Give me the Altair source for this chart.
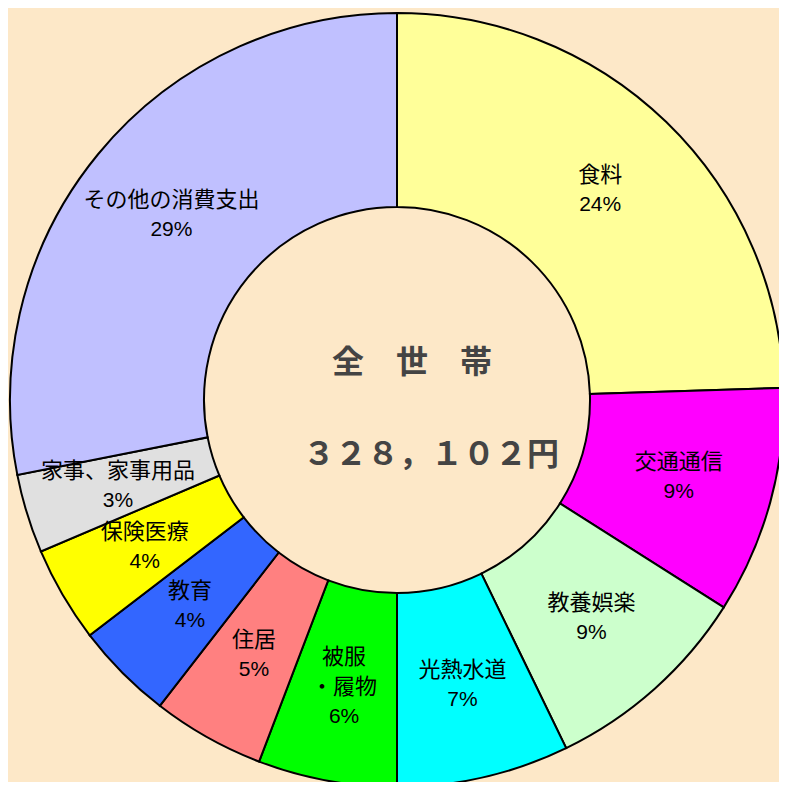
import altair as alt
import pandas as pd

# ---- data ----
categories = ["食料", "交通通信", "教養娯楽", "光熱水道", "被服・履物",
              "住居", "教育", "保険医療", "家事、家事用品", "その他の消費支出"]
label_lines = [["食料"], ["交通通信"], ["教養娯楽"], ["光熱水道"], ["被服", "・履物"],
               ["住居"], ["教育"], ["保険医療"], ["家事、家事用品"], ["その他の消費支出"]]
shares = [24.5, 9.5, 8.8, 7.2, 5.8, 4.7, 4.1, 4.0, 3.3, 28.1]
pct_labels = ["24%", "9%", "9%", "7%", "6%", "5%", "4%", "4%", "3%", "29%"]
colors = ["#FFFF99", "#FF00FF", "#CCFFCC", "#00FFFF", "#00FF00",
          "#FF8080", "#3366FF", "#FFFF00", "#E0E0E0", "#C0C0FF"]
center_title = "全　世　帯"
center_total = "３２８，１０２円"

# ---- layout ----
W, H = 771, 774
CX, CY = 389, 392
R_OUT, R_IN, R_LAB = 387, 193, 292
LINE = 30
BG = "#FDE8C8"

slots = [-30, -15, 0, 15, 30]
rows = []
for i, cat in enumerate(categories):
    lines = label_lines[i] + [pct_labels[i]]
    n = len(lines)
    rec = {"idx": i, "cat": cat, "share": shares[i]}
    for s in slots:
        rec[f"s{s}"] = ""
    for k, ln in enumerate(lines):
        s = int((k - (n - 1) / 2) * LINE)
        rec[f"s{s}"] = ln
    rows.append(rec)
df = pd.DataFrame(rows)

base = alt.Chart(df).encode(
    theta=alt.Theta("share:Q", stack=True),
    order=alt.Order("idx:Q", sort="ascending"),
)

arcs = base.mark_arc(outerRadius=R_OUT, innerRadius=R_IN, stroke="black",
                     strokeWidth=2).encode(
    color=alt.Color("cat:N", scale=alt.Scale(domain=categories, range=colors), legend=None),
    x=alt.value(CX), y=alt.value(CY),
)

text_layers = []
for s in slots:
    is_pct = s > 0
    t = base.mark_text(
        radius=R_LAB, dy=s, align="center", baseline="middle", color="black",
        font="Liberation Sans" if is_pct else "Noto Sans CJK JP",
        fontSize=21 if is_pct else 22,
    ).encode(text=alt.Text(f"s{s}:N"), x=alt.value(CX), y=alt.value(CY))
    text_layers.append(t)

center_df = pd.DataFrame({"t": [center_title], "u": [center_total]})
c1 = alt.Chart(center_df).mark_text(
    font="Noto Sans CJK JP", fontWeight="bold", fontSize=32, color="#444444",
    align="center", baseline="middle", dx=15, dy=-37,
).encode(text="t:N", x=alt.value(CX), y=alt.value(CY))
c2 = alt.Chart(center_df).mark_text(
    font="Noto Sans CJK JP", fontWeight="bold", fontSize=32, color="#444444",
    align="center", baseline="middle", dx=34, dy=55,
).encode(text="u:N", x=alt.value(CX), y=alt.value(CY))

chart = alt.layer(arcs, *text_layers, c1, c2).properties(
    width=W, height=H, background=BG, padding=0,
    autosize=alt.AutoSizeParams(type="none"),
).configure_view(stroke=None)

chart.save("out.html", embed_options={"renderer": "svg", "actions": False})
